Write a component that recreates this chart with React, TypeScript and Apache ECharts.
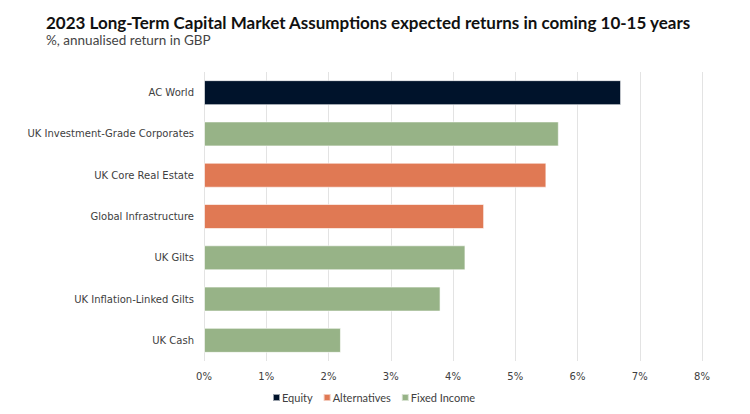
import React, { useEffect, useRef } from "react";
import * as echarts from "echarts";

const categories = [
  "AC World",
  "UK Investment-Grade Corporates",
  "UK Core Real Estate",
  "Global Infrastructure",
  "UK Gilts",
  "UK Inflation-Linked Gilts",
  "UK Cash",
];
const equity = [6.7, null, null, null, null, null, null];
const alternatives = [null, null, 5.5, 4.5, null, null, null];
const fixedIncome = [null, 5.7, null, null, 4.2, 3.8, 2.2];
const tickLabels = ["0%", "1%", "2%", "3%", "4%", "5%", "6%", "7%", "8%"];

const FONT = "Lato, 'Noto Sans', sans-serif";
const WIDE = "'DejaVu Sans', sans-serif";

export default function App() {
  const ref = useRef<HTMLDivElement>(null);
  useEffect(() => {
    if (!ref.current) return;
    const chart = echarts.init(ref.current, undefined, { renderer: "svg" });
    const toData = (arr: (number | null)[]) => arr.map((v) => (v == null ? "-" : v));
    const mk = (name: string, color: string, arr: (number | null)[]) => ({
      name,
      type: "bar",
      stack: "total",
      data: toData(arr),
      barWidth: 25,
      itemStyle: { color, borderColor: "rgba(255,255,255,0.6)", borderWidth: 1 },
    });
    chart.setOption({
      animation: false,
      backgroundColor: "#ffffff",
      textStyle: { fontFamily: FONT },
      title: {
        text: "2023 Long-Term Capital Market Assumptions expected returns in coming 10-15 years",
        subtext: "%, annualised return in GBP",
        left: 41,
        top: 9,
        itemGap: 2,
        textStyle: { fontSize: 17, fontWeight: "bold", color: "#111111", fontFamily: FONT },
        subtextStyle: { fontSize: 13.5, color: "#444444", fontFamily: FONT },
      },
      legend: {
        left: 267,
        top: 387,
        itemWidth: 7,
        itemHeight: 7,
        itemGap: 10,
        icon: "rect",
        textStyle: { fontSize: 11, color: "#404040", fontFamily: FONT, padding: [0, 0, 0, -3] },
        data: ["Equity", "Alternatives", "Fixed Income"],
      },
      grid: { left: 204, right: 48, top: 72, bottom: 53, containLabel: false },
      xAxis: {
        type: "value",
        min: 0,
        max: 8,
        interval: 1,
        axisLine: { show: false },
        axisTick: { show: false },
        axisLabel: {
          fontSize: 10,
          fontFamily: WIDE,
          color: "#404040",
          margin: 10,
          formatter: (v: number) => tickLabels[Math.round(v)] ?? "",
        },
        splitLine: { show: true, lineStyle: { color: "#e3e3e3", width: 1 } },
      },
      yAxis: {
        type: "category",
        data: categories,
        inverse: true,
        axisLine: { show: false },
        axisTick: { show: false },
        axisLabel: { fontSize: 10, fontFamily: WIDE, color: "#404040", margin: 10 },
      },
      series: [
        mk("Equity", "#00132b", equity),
        mk("Alternatives", "#e07954", alternatives),
        mk("Fixed Income", "#97b387", fixedIncome),
      ],
    });
    return () => chart.dispose();
  }, []);
  return <div ref={ref} style={{ width: 750, height: 414 }} />;
}

if (typeof document !== "undefined") {
  document.body.style.margin = "0";
}
